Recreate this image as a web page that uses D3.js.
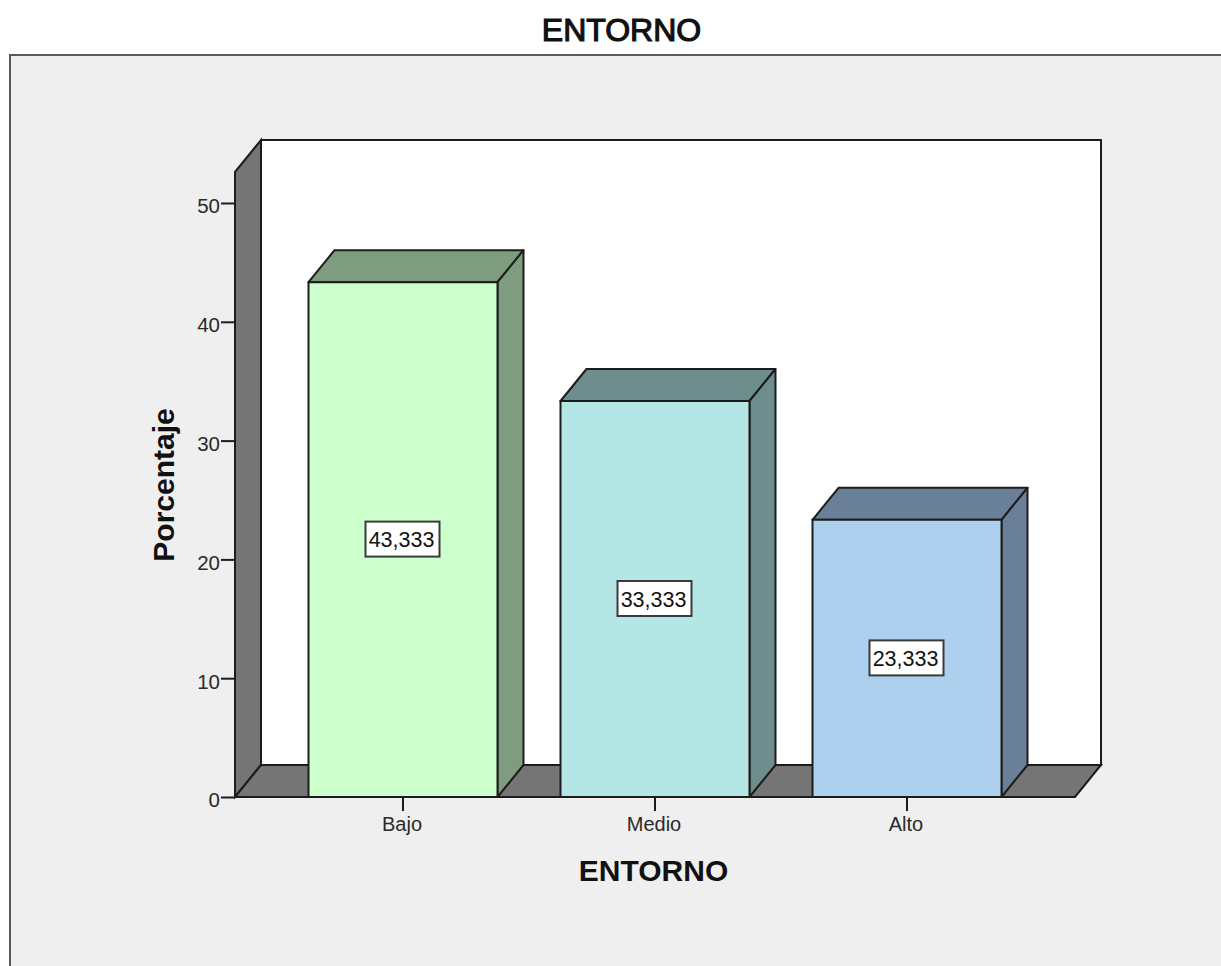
<!DOCTYPE html>
<html>
<head>
<meta charset="utf-8">
<style>
html,body{margin:0;padding:0;background:#fff;}
svg{display:block;}
text{font-family:"Liberation Sans",Arial,sans-serif;fill:#111;}
</style>
<script src="https://cdnjs.cloudflare.com/ajax/libs/d3/7.8.5/d3.min.js"></script>
</head>
<body>
<svg id="chart" width="1221" height="966"></svg>
<script>
const categories = ["Bajo", "Medio", "Alto"];
const percentages = [43.333, 33.333, 23.333];
const valueLabels = ["43,333", "33,333", "23,333"];
const frontColors = ["#ccffcc", "#b5e6e6", "#acd0ee"];
const sideColors = ["#7e9c7e", "#6e8e8e", "#6a8098"];
const yTicks = [0, 10, 20, 30, 40, 50];
const chartTitle = "ENTORNO";
const xTitle = "ENTORNO";
const yTitle = "Porcentaje";

const WALL = "#757575", INK = "#1c1c1c", TICK_TEXT = "#2a2a2a";
const depth = {dx: 26, dy: -32};

const svg = d3.select("#chart");
const y = d3.scaleLinear().domain([0, 50]).range([797, 203]);
const x = d3.scaleBand().domain(categories).range([277, 1033]).paddingInner(0.25).paddingOuter(0.125);

const axisLeft = 235, axisRight = 1075, axisTop = 172;
const poly = pts => "M" + pts.map(p => p.join(",")).join("L") + "Z";
const shift = ([px, py]) => [px + depth.dx, py + depth.dy];

// outer panel, open on the right and bottom edges
svg.append("rect").attr("x", 10).attr("y", 55).attr("width", 1230).attr("height", 940)
  .attr("fill", "#efefef").attr("stroke", "#5a5a5a").attr("stroke-width", 2);

// back wall, side wall and floor of the 3D plot box
const base = y(0);
svg.append("path").attr("d", poly([shift([axisLeft, axisTop]), shift([axisRight, axisTop]), shift([axisRight, base]), shift([axisLeft, base])]))
  .attr("fill", "#fff").attr("stroke", INK).attr("stroke-width", 2);
svg.append("path").attr("d", poly([[axisLeft, axisTop], shift([axisLeft, axisTop]), shift([axisLeft, base]), [axisLeft, base]]))
  .attr("fill", WALL).attr("stroke", INK).attr("stroke-width", 2);
svg.append("path").attr("d", poly([[axisLeft, base], shift([axisLeft, base]), shift([axisRight, base]), [axisRight, base]]))
  .attr("fill", WALL).attr("stroke", INK).attr("stroke-width", 2);

// y axis
const yAxis = d3.axisLeft(y).tickValues(yTicks).tickSize(14).tickPadding(1).tickFormat(d3.format("d"));
const gy = svg.append("g").attr("transform", `translate(${axisLeft},0)`).call(yAxis);
gy.select(".domain").remove();
gy.selectAll("line").attr("stroke", INK).attr("stroke-width", 2);
gy.selectAll("text").attr("font-size", 20.5).attr("dy", "0.48em").style("fill", TICK_TEXT);

// bars as three visible faces
const bars = svg.append("g").selectAll("g").data(categories).join("g");
bars.each(function(c, i) {
  const g = d3.select(this);
  const l = x(c), r = l + x.bandwidth(), t = y(percentages[i]);
  g.append("path").attr("d", poly([[l, t], shift([l, t]), shift([r, t]), [r, t]]))
    .attr("fill", sideColors[i]).attr("stroke", INK).attr("stroke-width", 2).attr("stroke-linejoin", "round");
  g.append("path").attr("d", poly([[r, t], shift([r, t]), shift([r, base]), [r, base]]))
    .attr("fill", sideColors[i]).attr("stroke", INK).attr("stroke-width", 2).attr("stroke-linejoin", "round");
  g.append("path").attr("d", poly([[l, t], [r, t], [r, base], [l, base]]))
    .attr("fill", frontColors[i]).attr("stroke", INK).attr("stroke-width", 2);
});

// x axis ticks and labels
const xAxis = d3.axisBottom(x).tickSize(14).tickPadding(6);
const gx = svg.append("g").attr("transform", `translate(0,${base})`).call(xAxis);
gx.select(".domain").remove();
gx.selectAll("line").attr("stroke", INK).attr("stroke-width", 2);
gx.selectAll("text").attr("font-size", 20).attr("dx", -1).style("fill", TICK_TEXT);

// value labels in white boxes at mid-height of each bar
const tags = svg.append("g").selectAll("g").data(categories).join("g")
  .attr("transform", (c, i) => `translate(${x(c) + x.bandwidth() / 2},${y(percentages[i] / 2)})`);
tags.append("rect").attr("x", -37.5).attr("y", -18).attr("width", 74).attr("height", 35)
  .attr("fill", "#fff").attr("stroke", "#3a3a3a").attr("stroke-width", 2);
tags.append("text").attr("text-anchor", "middle").attr("x", -1.5).attr("y", 7.5).attr("font-size", 21.5)
  .text((c, i) => valueLabels[i]);

// titles
svg.append("text").attr("x", 621.5).attr("y", 40.5).attr("text-anchor", "middle")
  .attr("font-size", 32).style("stroke", "#111").style("stroke-width", 1.2).text(chartTitle);
svg.append("text").attr("x", 653.5).attr("y", 881).attr("text-anchor", "middle")
  .attr("font-size", 30).attr("font-weight", "bold").text(xTitle);
svg.append("text").attr("transform", "translate(174,485) rotate(-90)").attr("text-anchor", "middle")
  .attr("font-size", 30).attr("font-weight", "bold").text(yTitle);
</script>
</body>
</html>
